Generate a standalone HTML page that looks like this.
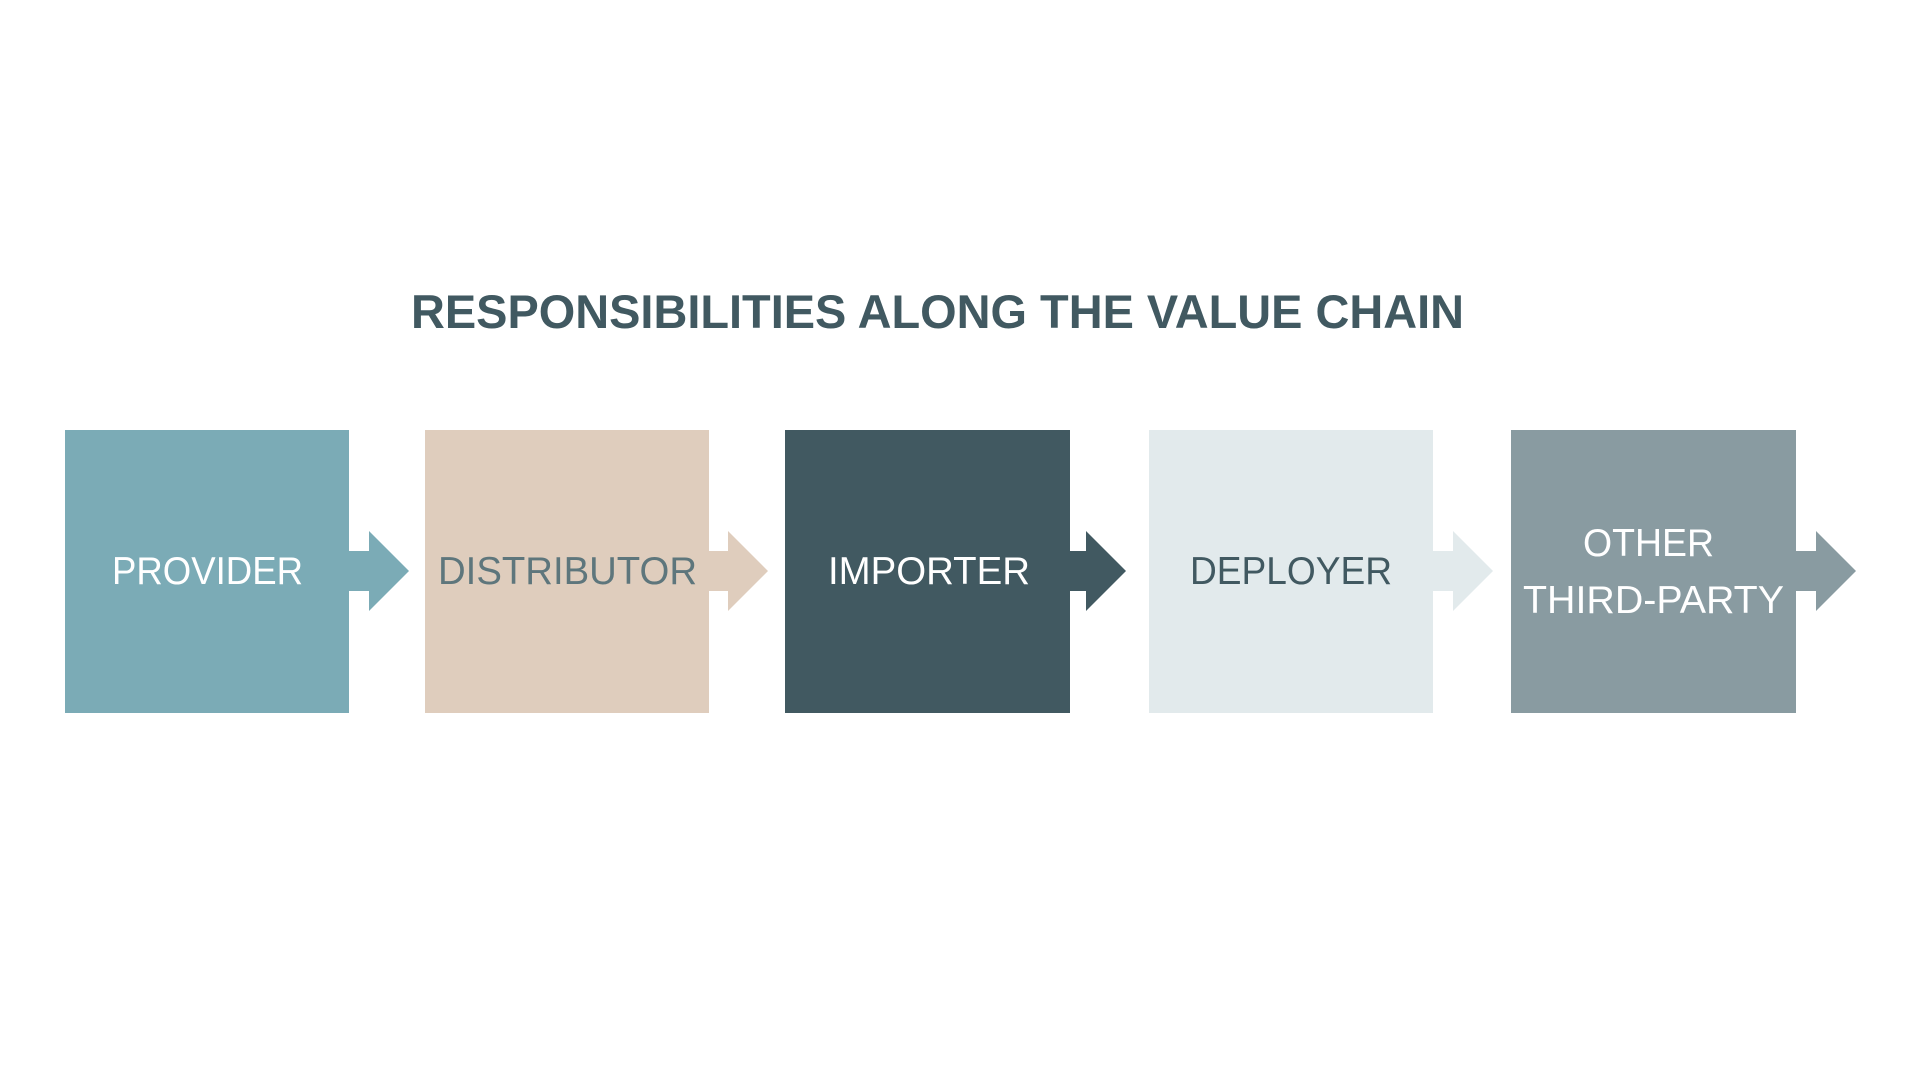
<!DOCTYPE html>
<html><head><meta charset="utf-8"><style>
html,body{margin:0;padding:0;background:#fff;}
svg{display:block;}
text{font-family:"Liberation Sans",sans-serif;}
</style></head><body>
<svg width="1920" height="1080" viewBox="0 0 1920 1080" xmlns="http://www.w3.org/2000/svg">
<rect width="1920" height="1080" fill="#fff"/>
<text x="411" y="328" font-size="47" font-weight="bold" fill="#415961" textLength="1053" lengthAdjust="spacingAndGlyphs">RESPONSIBILITIES ALONG THE VALUE CHAIN</text>

<rect x="65" y="430" width="284" height="283" fill="#7BABB6"/>
<polygon points="349,551 369,551 369,531 409,571 369,611 369,591 349,591" fill="#7BABB6"/>
<rect x="425" y="430" width="284" height="283" fill="#DFCDBD"/>
<polygon points="709,551 728,551 728,531 768,571 728,611 728,591 709,591" fill="#DFCDBD"/>
<rect x="785" y="430" width="285" height="283" fill="#415961"/>
<polygon points="1070,551 1086,551 1086,531 1126,571 1086,611 1086,591 1070,591" fill="#415961"/>
<rect x="1149" y="430" width="284" height="283" fill="#E2EAEC"/>
<polygon points="1433,551 1453,551 1453,531 1493,571 1453,611 1453,591 1433,591" fill="#E2EAEC"/>
<rect x="1511" y="430" width="285" height="283" fill="#899BA1"/>
<polygon points="1796,551 1816,551 1816,531 1856,571 1816,611 1816,591 1796,591" fill="#899BA1"/>

<text x="112" y="584" font-size="39" fill="#fff" textLength="191" lengthAdjust="spacingAndGlyphs">PROVIDER</text>
<text x="438" y="584" font-size="39" fill="#5E767C" textLength="259" lengthAdjust="spacingAndGlyphs">DISTRIBUTOR</text>
<text x="828" y="584" font-size="39" fill="#fff" textLength="202" lengthAdjust="spacingAndGlyphs">IMPORTER</text>
<text x="1190" y="584" font-size="39" fill="#415961" textLength="202" lengthAdjust="spacingAndGlyphs">DEPLOYER</text>
<text x="1583" y="556" font-size="39" fill="#fff" textLength="131" lengthAdjust="spacingAndGlyphs">OTHER</text>
<text x="1523" y="613" font-size="39" fill="#fff" textLength="261" lengthAdjust="spacingAndGlyphs">THIRD-PARTY</text>
</svg>
</body></html>
